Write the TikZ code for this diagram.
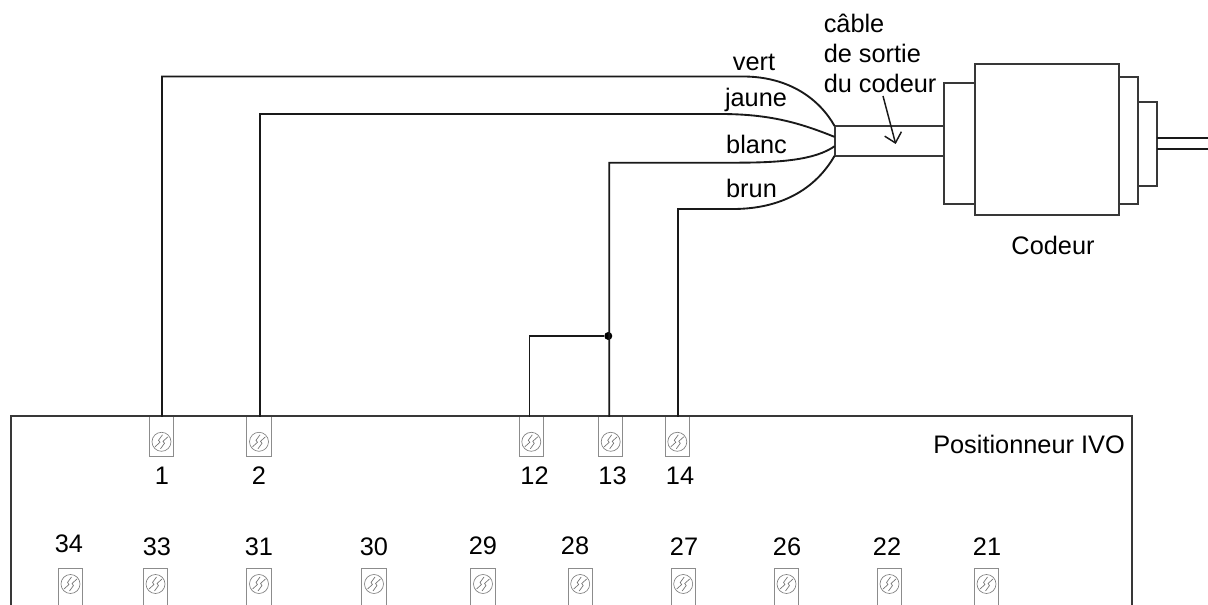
\documentclass[tikz,border=0pt]{standalone}
\usepackage{fontspec}
\setmainfont{Liberation Sans}
\usetikzlibrary{arrows.meta}
\tikzset{
  x=0.75pt,y=-0.75pt,
  lbl/.style={anchor=base,inner sep=0pt,font=\fontsize{19}{19}\selectfont,text=black},
  lblw/.style={lbl,anchor=base west},
  part/.style={draw=black!78,line width=1.5pt,fill=white,inner sep=0pt,outer sep=0pt,rectangle},
  wire/.style={draw=black!90,line width=1.4pt},
  termbox/.style={draw=black!45,line width=0.75pt,fill=white,inner sep=0pt,outer sep=0pt,rectangle,minimum width=18.2pt,minimum height=29.6pt},
  pics/screwhead/.style={code={
    \draw[black!50,line width=0.5pt] (0,0) circle (9.5);
    \draw[black!55,line width=0.5pt] (-6.5,5) -- (-1.5,0.5) -- (-3,-1.5) -- (1,-7);
    \draw[black!55,line width=0.5pt] (-1,7) -- (3,1.5) -- (1.5,-0.5) -- (6.5,-5);
  }},
}
\begin{document}
\begin{tikzpicture}
\useasboundingbox (0,0) rectangle (1208,605);
\clip (0,0) rectangle (1208,605);
\fill[white] (0,0) rectangle (1208,605);

% top row of terminals
\foreach \n/\xx in {1/161.5,2/259,12/531.3,13/610.7,14/677.3}{
  \node[termbox,anchor=north] (t\n) at (\xx,417) {};
  \pic at ([yshift=-18.6pt]t\n.north) {screwhead};
}
% bottom row of terminals
\foreach \n/\xx in {34/70.5,33/155.5,31/259,30/374,29/483,28/580.2,27/683.2,26/786.5,22/889.5,21/986.5}{
  \node[termbox,anchor=north] (t\n) at (\xx,569) {};
  \pic at ([yshift=-11.25pt]t\n.north) {screwhead};
}
% positioner casing (continues below the picture)
\node[part,fill=none,anchor=north west,minimum width=841.1pt,minimum height=180pt] (casing) at (10.5,416.5) {};

% encoder
\node[part,minimum width=81.9pt,minimum height=22.3pt] (cable) at (889.2,140.9) {};
\node[part,minimum width=23.4pt,minimum height=90.8pt] (flange) at (959.2,143.8) {};
\node[part,minimum width=108.3pt,minimum height=113.2pt] (body) at (1047.2,139.5) {};
\node[part,minimum width=14.2pt,minimum height=95.3pt] (ringa) at (1128.8,140.8) {};
\node[part,minimum width=13.8pt,minimum height=63.4pt] (ringb) at (1147.5,144) {};
\coordinate (shafta) at (1208,138.3);
\coordinate (shaftb) at (1208,149.3);
\draw[wire,line width=1.2pt] (ringb.east |- shafta) -- (shafta);
\draw[wire,line width=1.2pt] (ringb.east |- shaftb) -- (shaftb);

% wires
\node[circle,fill=black,inner sep=0pt,minimum size=6pt] (jn) at (608.3,336) {};
\draw[wire] ([xshift=0.375pt]t1.north) -- (162,76.5) -- (743,76.5)
  .. controls (790,76.5) and (820,100) .. (cable.north west);
\draw[wire] ([xshift=0.75pt]t2.north) -- (260,114) -- (720,114)
  .. controls (770,114) and (800,123) .. ([yshift=3pt]cable.west);
\draw[wire] ([xshift=-1.125pt]t13.north) -- (609.2,162.7) -- (735,162.7)
  .. controls (780,162.7) and (815,160) .. ([yshift=-4pt]cable.west);
\draw[wire] ([xshift=0.525pt]t14.north) -- (678,209) -- (733,209)
  .. controls (780,209) and (815,190) .. (cable.south west);
\draw[wire] ([xshift=-1.35pt]t12.north) |- (jn);

% labels
\node[lbl] (lvert) at (754,71) {vert};
\node[lbl] (ljaune) at (756,107) {jaune};
\node[lbl] (lblanc) at (756.5,154) {blanc};
\node[lbl] (lbrun) at (751.5,198) {brun};
\node[lblw] (lcable) at (823.5,33) {câble};
\node[lblw] (lsortie) at (823.5,63) {de sortie};
\node[lblw] (lcodeur) at (823.5,93) {du codeur};
\node[lbl] (lenc) at (1053,255) {Codeur};
\node[lbl] (lpos) at (1029,454) {Positionneur IVO};

\coordinate (atip) at (895.7,144);
\draw[black!90,line width=1.1pt,-{Straight Barb[length=7pt,width=13pt,line width=1.1pt]}] (883,96) -- (atip);

% terminal numbers
\foreach \n/\xx in {1/162,2/259,12/534.5,13/612.5,14/680}{
  \node[lbl] (n\n) at (\xx,484.5) {\n};
}
\foreach \n/\xx/\yy in {34/69/553,33/157/556,31/259/556,30/374/556,29/483/555,28/575/555,27/684/556,26/787/556,22/887/556,21/987/556}{
  \node[lbl] (n\n) at (\xx,\yy) {\n};
}
\end{tikzpicture}
\end{document}
